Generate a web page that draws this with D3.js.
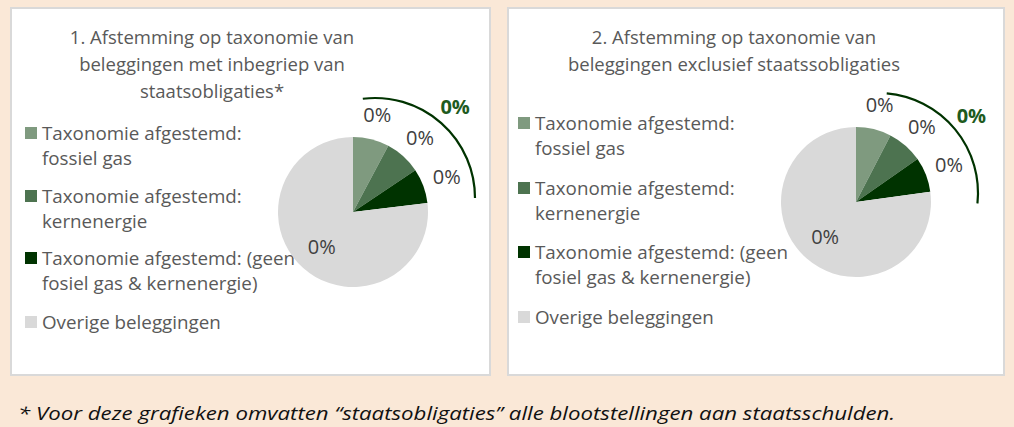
<!DOCTYPE html>
<html>
<head>
<meta charset="utf-8">
<script src="https://cdn.jsdelivr.net/npm/d3@7"></script>
<style>
  html, body { margin: 0; padding: 0; background: #FAE8D7; }
  svg { display: block; }
  text { font-family: "Open Sans", sans-serif; }
</style>
</head>
<body>
<svg id="chart" width="1014" height="427"></svg>
<script>
// ---- data ----
const categories = [
  ["Taxonomie afgestemd:", "fossiel gas"],
  ["Taxonomie afgestemd:", "kernenergie"],
  ["Taxonomie afgestemd: (geen", "fosiel gas & kernenergie)"],
  ["Overige beleggingen"]
];
const colors = ["#7F9A7F", "#4D7350", "#003300", "#D9D9D9"];
const titles1 = ["1. Afstemming op taxonomie van", "beleggingen met inbegriep van", "staatsobligaties*"];
const titles2 = ["2. Afstemming op taxonomie van", "beleggingen exclusief staatssobligaties"];
const shares1 = [7.8, 7.8, 7.5, 76.9];   // slice sizes as drawn
const shares2 = [7.6, 7.7, 7.5, 77.2];
const labels1 = ["0%", "0%", "0%", "0%"];
const labels2 = ["0%", "0%", "0%", "0%"];
const alignedTotal1 = "0%";
const alignedTotal2 = "0%";
const footnote = "* Voor deze grafieken omvatten \u201Cstaatsobligaties\u201D alle blootstellingen aan staatsschulden.";

const svg = d3.select("#chart");

const panels = [
  { x0: 11, x1: 490, titles: titles1, titleX: 212, titleY: 38,
    legendX: 25, legendY: [133, 196, 258, 322],
    cx: 353, cy: 212, shares: shares1, labels: labels1, total: alignedTotal1,
    arcDx: 22, arcDy: -14, arcA0: -7, arcA1: 90 },
  { x0: 508, x1: 1004, titles: titles2, titleX: 734, titleY: 38,
    legendX: 518, legendY: [123, 188, 252, 317],
    cx: 856, cy: 202, shares: shares2, labels: labels2, total: alignedTotal2,
    arcDx: 22, arcDy: -9, arcA0: 5, arcA1: 96 }
];

const R = 75;
const deg = Math.PI / 180;
const FS = 18.8;

panels.forEach(p => {
  const g = svg.append("g");
  g.append("rect")
    .attr("x", p.x0).attr("y", 8)
    .attr("width", p.x1 - p.x0).attr("height", 367)
    .attr("fill", "#fff").attr("stroke", "#D9D9D9").attr("stroke-width", 2);

  // title
  g.append("text")
    .attr("text-anchor", "middle").attr("fill", "#595959")
    .attr("font-size", 18.5)
    .selectAll("tspan").data(p.titles).join("tspan")
    .attr("x", p.titleX)
    .attr("y", (d, i) => p.titleY + i * 27)
    .attr("dy", "0.35em")
    .text(d => d);

  // legend
  const lg = g.append("g");
  categories.forEach((lines, i) => {
    lg.append("rect")
      .attr("x", p.legendX).attr("y", p.legendY[i] - 6)
      .attr("width", 12).attr("height", 12)
      .attr("fill", colors[i]);
    const t = lg.append("text").attr("fill", "#595959").attr("font-size", FS);
    lines.forEach((ln, j) => {
      t.append("tspan")
        .attr("x", p.legendX + 17)
        .attr("y", p.legendY[i] + j * 25.5)
        .attr("dy", "0.35em")
        .text(ln);
    });
  });

  // pie
  const pie = d3.pie().sort(null).value(d => d)(p.shares);
  const arc = d3.arc().innerRadius(0).outerRadius(R);
  const pg = g.append("g").attr("transform", `translate(${p.cx},${p.cy})`);
  pg.selectAll("path.slice").data(pie).join("path")
    .attr("class", "slice")
    .attr("d", arc)
    .attr("fill", (d, i) => colors[i]);

  const outerLabel = d3.arc().innerRadius(100).outerRadius(100);
  const innerLabel = d3.arc().innerRadius(47).outerRadius(47);
  pg.selectAll("text.lab").data(pie).join("text")
    .attr("class", "lab")
    .attr("transform", (d, i) => `translate(${(i < 3 ? outerLabel : innerLabel).centroid(d)})`)
    .attr("text-anchor", "middle").attr("dy", "0.35em")
    .attr("font-size", 20)
    .attr("fill", "#404040")
    .text((d, i) => p.labels[i]);

  // bracket arc for aligned total
  const ag = g.append("g").attr("transform", `translate(${p.cx + p.arcDx},${p.cy + p.arcDy})`);
  const bracket = d3.arc().innerRadius(100).outerRadius(100)
    .startAngle(p.arcA0 * deg).endAngle(p.arcA1 * deg);
  ag.append("path").attr("d", bracket())
    .attr("fill", "none").attr("stroke", "#003300").attr("stroke-width", 2.2);
  const mid = (p.arcA0 + p.arcA1) / 2 * deg;
  const lr = 121;
  ag.append("text")
    .attr("x", Math.sin(mid) * lr).attr("y", -Math.cos(mid) * lr)
    .attr("text-anchor", "middle").attr("dy", "0.35em")
    .attr("font-size", 20).attr("font-weight", "bold")
    .attr("fill", "#1E5B1E")
    .text(p.total);
});

svg.append("text")
  .attr("x", 18).attr("y", 420)
  .attr("font-size", 18.5).attr("font-style", "italic")
  .attr("fill", "#111")
  .attr("textLength", 877).attr("lengthAdjust", "spacingAndGlyphs")
  .text(footnote);
</script>
</body>
</html>
